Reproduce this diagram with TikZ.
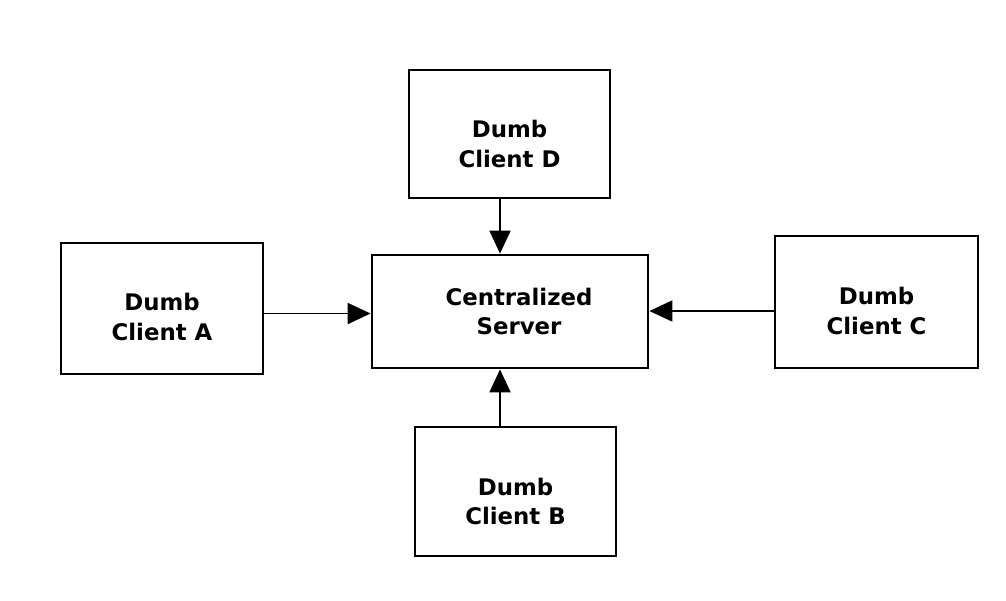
\documentclass[tikz,border=0pt]{standalone}
\usepackage{fontspec}
\setmainfont{DejaVu Sans}
\usepackage{tikz}
\usetikzlibrary{arrows.meta}
\usetikzlibrary{calc}

\begin{document}
\begin{tikzpicture}[x=0.02cm, y=-0.02cm,
	box/.style={draw, line width=1.6pt, inner sep=0pt},
	name text/.style={align=center, inner sep=0pt, font=\fontsize{13}{17}\selectfont\bfseries},
	link/.style={line width=1.1pt, -{Triangle[length=0.46cm, width=0.42cm]}}]
\useasboundingbox (0,0) rectangle (1006,600);
\node[box, minimum width=5.52cm, minimum height=2.26cm] (server) at (510,311.5) {};
\node[box, minimum width=4.02cm, minimum height=2.56cm] (clientD) at (509.5,134) {};
\node[box, minimum width=4.04cm, minimum height=2.62cm] (clientA) at (162,308.5) {};
\node[box, minimum width=4.06cm, minimum height=2.64cm] (clientC) at (876.5,302) {};
\node[box, minimum width=4.02cm, minimum height=2.58cm] (clientB) at (515.5,491.5) {};
\node[name text] (serverText) at ([xshift=0.18cm]server.center) {Centralized\\Server};
\node[name text] (clientDText) at ([yshift=-0.2cm]clientD.center) {Dumb\\Client D};
\node[name text] (clientAText) at ([yshift=-0.17cm]clientA.center) {Dumb\\Client A};
\node[name text] (clientCText) at ([yshift=-0.18cm]clientC.center) {Dumb\\Client C};
\node[name text] (clientBText) at ([yshift=-0.2cm]clientB.center) {Dumb\\Client B};
\path[link]
([xshift=-0.19cm]clientD.south) edge ([xshift=-0.19cm]clientD.south |- server.north)
([xshift=-0.31cm]clientB.north) edge ([xshift=-0.31cm]clientB.north |- server.south)
([yshift=-0.1cm]clientA.east) edge ([yshift=-0.1cm]clientA.east -| server.west)
([yshift=-0.18cm]clientC.west) edge ([yshift=-0.18cm]clientC.west -| server.east)
;
\end{tikzpicture}
\end{document}
